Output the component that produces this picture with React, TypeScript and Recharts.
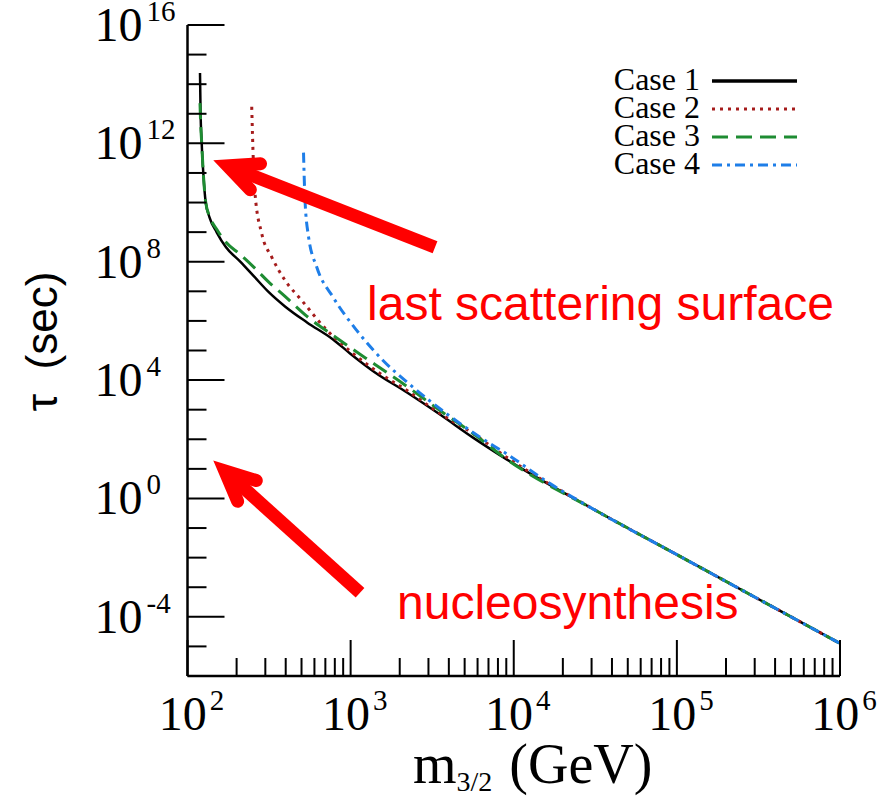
import React from 'react';
import { LineChart, Line, XAxis, YAxis, Legend, ReferenceLine, ReferenceDot } from 'recharts';

const SERIF = "'Liberation Serif', 'Times New Roman', serif";
const SANS = "'Liberation Sans', Arial, sans-serif";

// m_{3/2} (GeV) and tau (sec) readings
const case1Mass = [119.3, 120.2, 122.2, 125.0, 129.3, 136.4, 151.0, 172.2, 209.8, 255.7, 311.5, 396.1, 540.5, 780, 991.6, 1411, 2217, 3533, 5630, 9098, 31623, 100000, 1000000];
const case1Tau = [2.38e14, 1.33e13, 1.02e12, 9.8e10, 1.02e10, 3.18e9, 9.88e8, 3.07e8, 1.03e8, 3.2e7, 9.96e6, 3.09e6, 8.9e5, 2.37e5, 7.95e4, 1.81e4, 3805, 685, 114, 20.6, 0.4, 0.0126, 1.26e-5];

const case2Mass = [247.6, 253.2, 259.4, 285.1, 328.3, 396.1, 501.3, 716.6, 1034, 1515, 2218, 3533, 5629, 9100, 31623, 100000, 1000000];
const case2Tau = [1.72e13, 2.7e11, 2.01e10, 8.93e8, 1.44e8, 2.35e7, 4.94e6, 4.77e5, 7.94e4, 1.67e4, 4440, 741, 156, 24, 0.4, 0.0126, 1.26e-5];

const case3Mass = [119.3, 120.2, 122.2, 125.0, 129.3, 136.4, 151.0, 172.2, 209.8, 255.7, 311.5, 396.1, 540.5, 780, 991.6, 1411, 2217, 3533, 5630, 9098, 31623, 100000, 1000000];
const case3Tau = [2.29e13, 6.1e12, 1.02e12, 9.8e10, 1.02e10, 3.44e9, 1.25e9, 4.53e8, 1.78e8, 6.46e7, 2.17e7, 6.75e6, 1.42e6, 3.23e5, 1.27e5, 3.37e4, 6073, 936, 156, 20.6, 0.4, 0.0126, 1.26e-5];

const case4Mass = [514.3, 525.3, 550.4, 619.7, 780, 1090, 1580, 2414, 3884, 6216, 9060, 16695, 31623, 100000, 1000000];
const case4Tau = [4.85e11, 1.2e10, 7.82e8, 6.62e7, 6.39e6, 4.77e5, 4.61e4, 5751, 724, 117, 32, 3.17, 0.4, 0.0126, 1.26e-5];

const xTicks = [
  100, 200, 300, 400, 500, 600, 700, 800, 900,
  1000, 2000, 3000, 4000, 5000, 6000, 7000, 8000, 9000,
  10000, 20000, 30000, 40000, 50000, 60000, 70000, 80000, 90000,
  100000, 200000, 300000, 400000, 500000, 600000, 700000, 800000, 900000,
  1000000,
];
const xMajor = [100, 1000, 10000, 100000, 1000000];

const yTicks = [
  1e-6, 1e-5, 1e-4, 1e-3, 1e-2, 1e-1, 1e0, 1e1, 1e2, 1e3, 1e4, 1e5,
  1e6, 1e7, 1e8, 1e9, 1e10, 1e11, 1e12, 1e13, 1e14, 1e15, 1e16,
];
const yMajor = [1e-4, 1e0, 1e4, 1e8, 1e12, 1e16];

const seriesNames = ['Case 1', 'Case 2', 'Case 3', 'Case 4'];
const seriesColors = ['#000000', '#a51c1c', '#1e8c32', '#1e7ee8'];
const seriesDash = ['', '3 5', '16 8', '10 5 3 5'];

// annotation anchors (data coordinates)
const arrowTop = [{ x: 3292, y: 3.07e8 }, { x: 143.9, y: 2.7e11 }];
const arrowBottom = [{ x: 1142, y: 6.5e-4 }, { x: 143.9, y: 19 }];
const textLast = { x: 1261, y: 1.04e6, label: 'last scattering surface' };
const textNucleo = { x: 1925, y: 8.55e-5, label: 'nucleosynthesis' };

const toRows = (ms: number[], ts: number[]) => ms.map((m, i) => ({ m, tau: ts[i] }));
const data1 = toRows(case1Mass, case1Tau);
const data2 = toRows(case2Mass, case2Tau);
const data3 = toRows(case3Mass, case3Tau);
const data4 = toRows(case4Mass, case4Tau);
const allData = [data1, data2, data3, data4];

const isMajor = (v: number, list: number[]) => list.some((t) => Math.abs(v - t) <= t * 1e-9);
const expOf = (v: number) => Math.round(Math.log10(v));

const XTickBottom = (props: any) => {
  const { x, y, payload } = props;
  const v = payload.value;
  const major = isMajor(v, xMajor);
  return (
    <g>
      <line x1={x} x2={x} y1={y} y2={y - (major ? 36 : 18)} stroke="#000" strokeWidth={2} />
      {major && (
        <text x={x + 4} y={y + 54} textAnchor="middle" fontFamily={SERIF} fontSize={48} fill="#000">
          10
          <tspan dx={3} dy={-20} fontSize={29}>{expOf(v)}</tspan>
        </text>
      )}
    </g>
  );
};

const XTickTop = (props: any) => {
  const { x, y, payload } = props;
  const major = isMajor(payload.value, xMajor);
  return <line x1={x} x2={x} y1={y} y2={y + (major ? 36 : 18)} stroke="#000" strokeWidth={2} />;
};

const YTickLeft = (props: any) => {
  const { x, y, payload } = props;
  const v = payload.value;
  const major = isMajor(v, yMajor);
  return (
    <g>
      <line x1={x} x2={x + (major ? 37 : 19)} y1={y} y2={y} stroke="#000" strokeWidth={2} />
      {major && (
        <text x={x - 93} y={y + 16} textAnchor="start" fontFamily={SERIF} fontSize={48} fill="#000">
          10
          <tspan dx={4} dy={-20} fontSize={29}>{expOf(v)}</tspan>
        </text>
      )}
    </g>
  );
};

const YTickRight = (props: any) => {
  const { x, y, payload } = props;
  const major = isMajor(payload.value, yMajor);
  return <line x1={x} x2={x - (major ? 37 : 19)} y1={y} y2={y} stroke="#000" strokeWidth={2} />;
};

const ArrowShape = (props: any) => {
  const { x1, y1, x2, y2 } = props;
  const w = 13;
  const half = (25 * Math.PI) / 180;
  const a = Math.atan2(y1 - y2, x1 - x2);
  const back = w / 2 / Math.sin(half);
  const vx = x2 + back * Math.cos(a);
  const vy = y2 + back * Math.sin(a);
  const L = 33;
  const b1x = vx + L * Math.cos(a + half);
  const b1y = vy + L * Math.sin(a + half);
  const b2x = vx + L * Math.cos(a - half);
  const b2y = vy + L * Math.sin(a - half);
  return (
    <g>
      <line x1={x1} y1={y1} x2={vx + 4 * Math.cos(a)} y2={vy + 4 * Math.sin(a)} stroke="#ff0000" strokeWidth={w} />
      <polyline
        points={`${b1x},${b1y} ${vx},${vy} ${b2x},${b2y}`}
        fill="none"
        stroke="#ff0000"
        strokeWidth={w}
        strokeLinejoin="miter"
        strokeLinecap="round"
        strokeMiterlimit={10}
      />
    </g>
  );
};

const makeTextShape = (label: string) => (props: any) => (
  <text x={props.cx} y={props.cy} fontFamily={SANS} fontSize={48} fill="#ff0000">
    {label}
  </text>
);

const renderLegend = (props: any) => {
  const payload = props.payload || [];
  return (
    <svg width={230} height={130} style={{ display: 'block' }}>
      {payload.map((entry: any, i: number) => {
        const idx = seriesNames.indexOf(entry.value);
        const base = 30 + i * 28;
        return (
          <g key={entry.value}>
            <text x={110} y={base} textAnchor="end" fontFamily={SERIF} fontSize={32} fill="#000">
              {entry.value}
            </text>
            <line
              x1={122}
              x2={207}
              y1={base - 9}
              y2={base - 9}
              stroke={seriesColors[idx]}
              strokeWidth={idx === 0 ? 3.5 : 3}
              strokeDasharray={seriesDash[idx] || undefined}
            />
          </g>
        );
      })}
    </svg>
  );
};

const XTitle = (props: any) => {
  const vb = props.viewBox || { x: 0, y: 0 };
  return (
    <text x={vb.x + 225.5} y={vb.y + 107} fontFamily={SERIF} fontSize={56} fill="#000">
      m<tspan dy={8} fontSize={28}>3/2</tspan>
      <tspan dy={-8} dx={3} fontSize={56}>{'\u00a0(GeV)'}</tspan>
    </text>
  );
};

const YTitle = (props: any) => {
  const vb = props.viewBox || { x: 0, y: 0, height: 0 };
  const cx = vb.x + 57;
  const cy = vb.y + vb.height / 2 - 9;
  return (
    <text x={cx} y={cy} transform={`rotate(-90, ${cx}, ${cy})`} textAnchor="middle" fontFamily={SANS} fontSize={44} fill="#000">
      {'\u03c4\u00a0\u00a0(sec)'}
    </text>
  );
};

export default function App() {
  return (
    <div style={{ position: 'absolute', left: 0, top: 0, background: '#fff' }}>
      <LineChart width={877} height={796} margin={{ top: 25, right: 37, bottom: 0, left: 0 }}>
        <XAxis
          xAxisId="bottom"
          dataKey="m"
          type="number"
          scale="log"
          domain={[100, 1000000]}
          allowDataOverflow
          ticks={xTicks}
          interval={0}
          tickSize={0}
          tickMargin={0}
          tick={<XTickBottom />}
          height={120}
          axisLine={{ stroke: '#000', strokeWidth: 2.5 }}
          tickLine={false}
          label={<XTitle />}
        />
        <XAxis
          xAxisId="top"
          orientation="top"
          dataKey="m"
          type="number"
          scale="log"
          domain={[100, 1000000]}
          allowDataOverflow
          ticks={xTicks}
          interval={0}
          tickSize={0}
          tickMargin={0}
          tick={<XTickTop />}
          height={0}
          axisLine={{ stroke: '#000', strokeWidth: 2.5 }}
          tickLine={false}
        />
        <YAxis
          yAxisId="left"
          dataKey="tau"
          type="number"
          scale="log"
          domain={[1e-6, 1e16]}
          allowDataOverflow
          ticks={yTicks}
          interval={0}
          tickSize={0}
          tickMargin={0}
          tick={<YTickLeft />}
          width={187.5}
          axisLine={{ stroke: '#000', strokeWidth: 2.5 }}
          tickLine={false}
          label={<YTitle />}
        />
        <YAxis
          yAxisId="right"
          orientation="right"
          dataKey="tau"
          type="number"
          scale="log"
          domain={[1e-6, 1e16]}
          allowDataOverflow
          ticks={yTicks}
          interval={0}
          tickSize={0}
          tickMargin={0}
          tick={<YTickRight />}
          width={0}
          axisLine={{ stroke: '#000', strokeWidth: 2.5 }}
          tickLine={false}
        />
        {allData.map((d, i) => (
          <Line
            key={seriesNames[i]}
            xAxisId="bottom"
            yAxisId="left"
            data={d}
            dataKey="tau"
            name={seriesNames[i]}
            type="monotone"
            stroke={seriesColors[i]}
            strokeWidth={i === 0 ? 2.5 : 3}
            strokeDasharray={seriesDash[i] || undefined}
            dot={false}
            legendType="line"
            isAnimationActive={false}
          />
        ))}
        <ReferenceLine xAxisId="bottom" yAxisId="left" segment={arrowTop} shape={ArrowShape} />
        <ReferenceLine xAxisId="bottom" yAxisId="left" segment={arrowBottom} shape={ArrowShape} />
        <ReferenceDot xAxisId="bottom" yAxisId="left" x={textLast.x} y={textLast.y} r={1} shape={makeTextShape(textLast.label)} />
        <ReferenceDot xAxisId="bottom" yAxisId="left" x={textNucleo.x} y={textNucleo.y} r={1} shape={makeTextShape(textNucleo.label)} />
        <Legend
          layout="vertical"
          align="center"
          verticalAlign="middle"
          content={renderLegend}
          wrapperStyle={{ left: 590, top: 60, width: 230, height: 130 }}
        />
      </LineChart>
    </div>
  );
}
